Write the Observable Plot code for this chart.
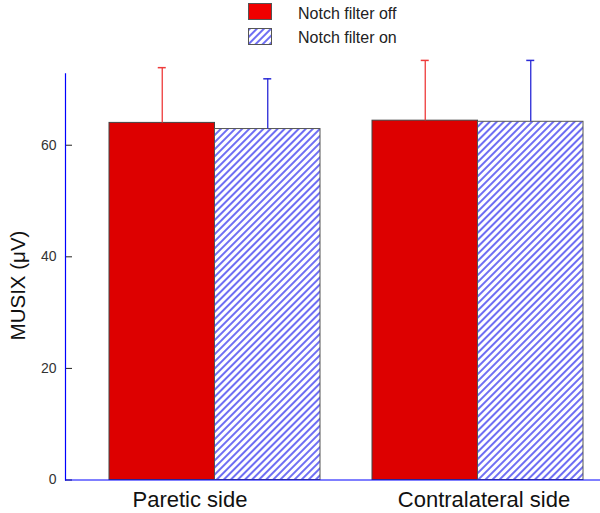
<!DOCTYPE html>
<html><head><meta charset="utf-8">
<script src="https://cdn.jsdelivr.net/npm/d3@7"></script>
<script src="https://cdn.jsdelivr.net/npm/@observablehq/plot@0.6"></script>
<style>
body{margin:0;background:#fff;font-family:"Liberation Sans",Arial,sans-serif;}
svg{display:block;}
</style></head><body>
<svg id="legend" width="600" height="50" style="font-family:'Liberation Sans',Arial,sans-serif">
  <defs>
    <pattern id="hatch" patternUnits="userSpaceOnUse" width="5" height="5" patternTransform="rotate(45)">
      <rect width="5" height="5" fill="#fff"></rect>
      <line x1="2" y1="0" x2="2" y2="5" stroke="#3030ee" stroke-width="1.4"></line>
    </pattern>
  </defs>
  <rect x="248.5" y="3.5" width="23" height="16" fill="#f00000" stroke="#555"></rect>
  <rect x="248.5" y="28.5" width="23" height="16" fill="url(#hatch)" stroke="#555"></rect>
  <text x="298" y="19" font-size="16" fill="#222">Notch filter off</text>
  <text x="298" y="43" font-size="16" fill="#222">Notch filter on</text>
</svg>
<div id="chart"></div>
<script>
const groups = ["Paretic side", "Contralateral side"];
const conditions = ["Notch filter off", "Notch filter on"];
const meanOff = [64.0, 64.4];
const sdOff = [9.9, 10.8];
const meanOn = [62.9, 64.2];
const sdOn = [9.0, 11.0];
const yTicks = [0, 20, 40, 60];
const yLabel = "MUSIX (μV)";

const rows = groups.flatMap((g, i) => [
  {group: g, cond: conditions[0], mean: meanOff[i], sd: sdOff[i]},
  {group: g, cond: conditions[1], mean: meanOn[i], sd: sdOn[i]}
]);
const isOff = d => d.cond === conditions[0];
const isOn = d => d.cond === conditions[1];
const errTop = d => d.mean + d.sd;
const font = "'Liberation Sans', Arial, sans-serif";

// band layout (pixels): group band width, half band, quarter band, cap half-width
const BW = 211, HALF = BW / 2, Q = BW / 4, CAP = 4;
const offColor = "#ee3b3b", onColor = "#2a2ad6", axisBlue = "#0000ff";

const chart = Plot.plot({
  width: 600, height: 463,
  marginLeft: 65, marginRight: 0, marginTop: 23.3, marginBottom: 33.5,
  style: {fontFamily: font, fontSize: "14px", color: "#222", background: "white", overflow: "visible"},
  x: {domain: groups, paddingInner: 0.199, paddingOuter: 0.115, align: 0.71, axis: null},
  y: {domain: [0, 72.8], axis: null},
  marks: [
    Plot.barY(rows, {filter: isOff, x: "group", y: "mean", insetRight: HALF, fill: "#dd0000", stroke: "#444", strokeWidth: 1}),
    Plot.barY(rows, {filter: isOn, x: "group", y: "mean", insetLeft: HALF, fill: "url(#hatch)", stroke: "#555", strokeWidth: 1}),
    Plot.ruleX(rows, {filter: isOff, x: "group", y1: "mean", y2: errTop, dx: -Q, stroke: offColor, strokeWidth: 1.3}),
    Plot.ruleX(rows, {filter: isOn, x: "group", y1: "mean", y2: errTop, dx: Q, stroke: onColor, strokeWidth: 1.3}),
    Plot.tickY(rows, {filter: isOff, x: "group", y: errTop, insetLeft: Q - CAP, insetRight: BW - Q - CAP, stroke: offColor, strokeWidth: 1.5}),
    Plot.tickY(rows, {filter: isOn, x: "group", y: errTop, insetLeft: BW - Q - CAP, insetRight: Q - CAP, stroke: onColor, strokeWidth: 1.5}),
    Plot.axisY({ticks: yTicks, tickSize: -7, tickFormat: d => d, label: null, stroke: "#222", fill: "#333"}),
    Plot.frame({anchor: "left", stroke: axisBlue, strokeWidth: 1.2}),
    Plot.ruleY([0], {stroke: axisBlue, strokeWidth: 1}),
    Plot.text([groups[0]], {x: d => d, frameAnchor: "bottom", lineAnchor: "top", dy: 11.5, dx: -25, text: d => d, fontSize: 22, fill: "#111"}),
    Plot.text([groups[1]], {x: d => d, frameAnchor: "bottom", lineAnchor: "top", dy: 11.5, dx: 6, text: d => d, fontSize: 22, fill: "#111"}),
    Plot.text([yLabel], {frameAnchor: "left", textAnchor: "middle", rotate: -90, dx: -47, dy: 8.6, text: d => d, fontSize: 20.5, fill: "#111"})
  ]
});
document.getElementById("chart").appendChild(chart);
</script>
</body></html>
